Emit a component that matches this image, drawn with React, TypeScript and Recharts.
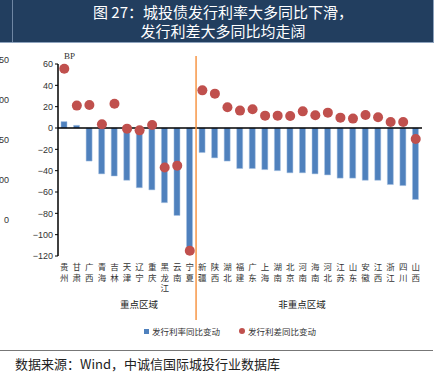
import { ComposedChart, Bar, Line, XAxis, YAxis, ReferenceLine } from "recharts"

const keyRegions = ["贵州", "甘肃", "广西", "青海", "吉林", "天津", "辽宁", "重庆", "黑龙江", "云南", "宁夏"]
const otherRegions = ["新疆", "陕西", "湖北", "福建", "广东", "上海", "湖南", "北京", "河南", "海南", "河北", "江苏", "山东", "安徽", "江西", "浙江", "四川", "山西"]
const regions = [...keyRegions, ...otherRegions]

// 发行利率同比变动 (BP)
const rateChange = [6, 2.5, -31, -43, -45, -49, -56, -58, -70, -82, -118,
  -23, -28, -31, -38, -38, -39, -40, -42, -42, -43, -44, -47, -47, -49, -49, -53, -54, -67]
// 发行利差同比变动 (BP)
const spreadChange = [55.5, 21, 21.5, 3.4, 22.8, -0.6, -2.2, 2.8, -37, -35.3, -115,
  35.3, 32.2, 19.4, 16.3, 17.5, 11.6, 11.6, 11.3, 15.6, 11.9, 14.4, 9.7, 8.8, 12.2, 10, 5.6, 5.6, -10.3]

const yTicks = [60, 40, 20, 0, -20, -40, -60, -80, -100, -120]
// labels of the neighbouring chart that is cut off on the left edge
const leftClipTicks = ["50", "00", "50", "00", "0"]

const data = regions.map((name, i) => ({ name, rate: rateChange[i], spread: spreadChange[i] }))

const BLUE = "#4F81BD"
const RED = "#C0504D"
const ORANGE = "#F79646"
const cjk = "'Noto Sans CJK SC', sans-serif"

// region names are written top-down, one character per line
function VerticalTick(props: any) {
  const { x, y, payload } = props
  const chars = String(payload.value).split("")
  return (
    <text x={x} y={y + 6} textAnchor="middle" fontSize={8.5} fill="#333" fontFamily={cjk}>
      {chars.map((c, i) => (
        <tspan key={i} x={x} dy={i === 0 ? 0 : 10.5}>{c}</tspan>
      ))}
    </text>
  )
}

export default function App() {
  return (
    <div style={{ position: "absolute", left: 0, top: 0, width: 442, height: 374, background: "#fff", overflow: "hidden" }}>
      {/* title bar */}
      <div style={{ position: "absolute", left: 0, top: 0, width: 433, height: 42, background: "#223E5F",
                    borderBottom: "1px solid #8EA3BD", borderRight: "1px solid #8EA3BD" }} />
      <div style={{ position: "absolute", left: 12, top: 0, width: 1, height: 42, background: "#6F86A3" }} />
      <div style={{ position: "absolute", left: 13, top: 2, width: 420, textAlign: "center", color: "#fff",
                    fontFamily: cjk, fontSize: 15, lineHeight: "19px" }}>
        图 27：城投债发行利率大多同比下滑，<br />发行利差大多同比均走阔
      </div>

      {leftClipTicks.map((t, i) => (
        <div key={i} style={{ position: "absolute", left: -1, top: 55 + i * 40, width: 10, textAlign: "right",
                              fontFamily: "'Liberation Sans', Arial, sans-serif", fontSize: 9, color: "#333" }}>{t}</div>
      ))}

      <div style={{ position: "absolute", left: 64, top: 51, fontFamily: "'Liberation Serif', serif", fontSize: 9, color: "#333" }}>BP</div>

      <div style={{ position: "absolute", left: 0, top: 0 }}>
        <ComposedChart width={442} height={330} data={data} margin={{ top: 64, right: 20, bottom: 34, left: 0 }}>
          <XAxis dataKey="name" interval={0} axisLine={false} tickLine={false} height={40} tick={<VerticalTick />} />
          <YAxis width={58} domain={[-120, 60]} ticks={yTicks} interval={0}
                 axisLine={{ stroke: "#000", strokeWidth: 1.5 }} tickLine={{ stroke: "#000" }} tickSize={3}
                 tick={{ fill: "#333", fontSize: 9, fontFamily: "'Liberation Sans', Arial, sans-serif" }}
                 tickFormatter={(v: number) => (v < 0 ? "−" + Math.abs(v) : String(v))} />
          <Bar dataKey="rate" fill={BLUE} barSize={6} stroke="#A9C2E3" strokeWidth={0.5} isAnimationActive={false} />
          <ReferenceLine y={0} stroke="#000" strokeWidth={1.5} />
          <ReferenceLine x="宁夏" position="end" ifOverflow="visible"
                         shape={(p: any) => (
                           <line x1={p.x1} x2={p.x2} y1={Math.min(p.y1, p.y2) - 8} y2={Math.max(p.y1, p.y2) + 64}
                                 stroke={ORANGE} strokeWidth={1.5} />
                         )} />
          <Line dataKey="spread" stroke="none" isAnimationActive={false} activeDot={false}
                dot={{ r: 5, fill: RED, stroke: "none" }} />
        </ComposedChart>
      </div>

      <div style={{ position: "absolute", left: 119, top: 297, width: 40, textAlign: "center", fontFamily: cjk, fontSize: 9.5, color: "#222" }}>重点区域</div>
      <div style={{ position: "absolute", left: 277, top: 297, width: 50, textAlign: "center", fontFamily: cjk, fontSize: 9.5, color: "#222" }}>非重点区域</div>

      {/* legend */}
      <div style={{ position: "absolute", left: 144, top: 325, display: "flex", alignItems: "center", fontFamily: cjk, fontSize: 8.5, color: "#333" }}>
        <span style={{ width: 5, height: 5, background: BLUE, marginRight: 3 }} />
        <span>发行利率同比变动</span>
        <span style={{ width: 6, height: 6, borderRadius: 3, background: RED, marginLeft: 19, marginRight: 3 }} />
        <span>发行利差同比变动</span>
      </div>

      <div style={{ position: "absolute", left: 0, top: 350, width: 433, height: 1, background: "#777" }} />
      <div style={{ position: "absolute", left: 15, top: 354, fontFamily: cjk, fontSize: 13, color: "#222", whiteSpace: "nowrap" }}>
        数据来源：Wind，中诚信国际城投行业数据库
      </div>
    </div>
  )
}
